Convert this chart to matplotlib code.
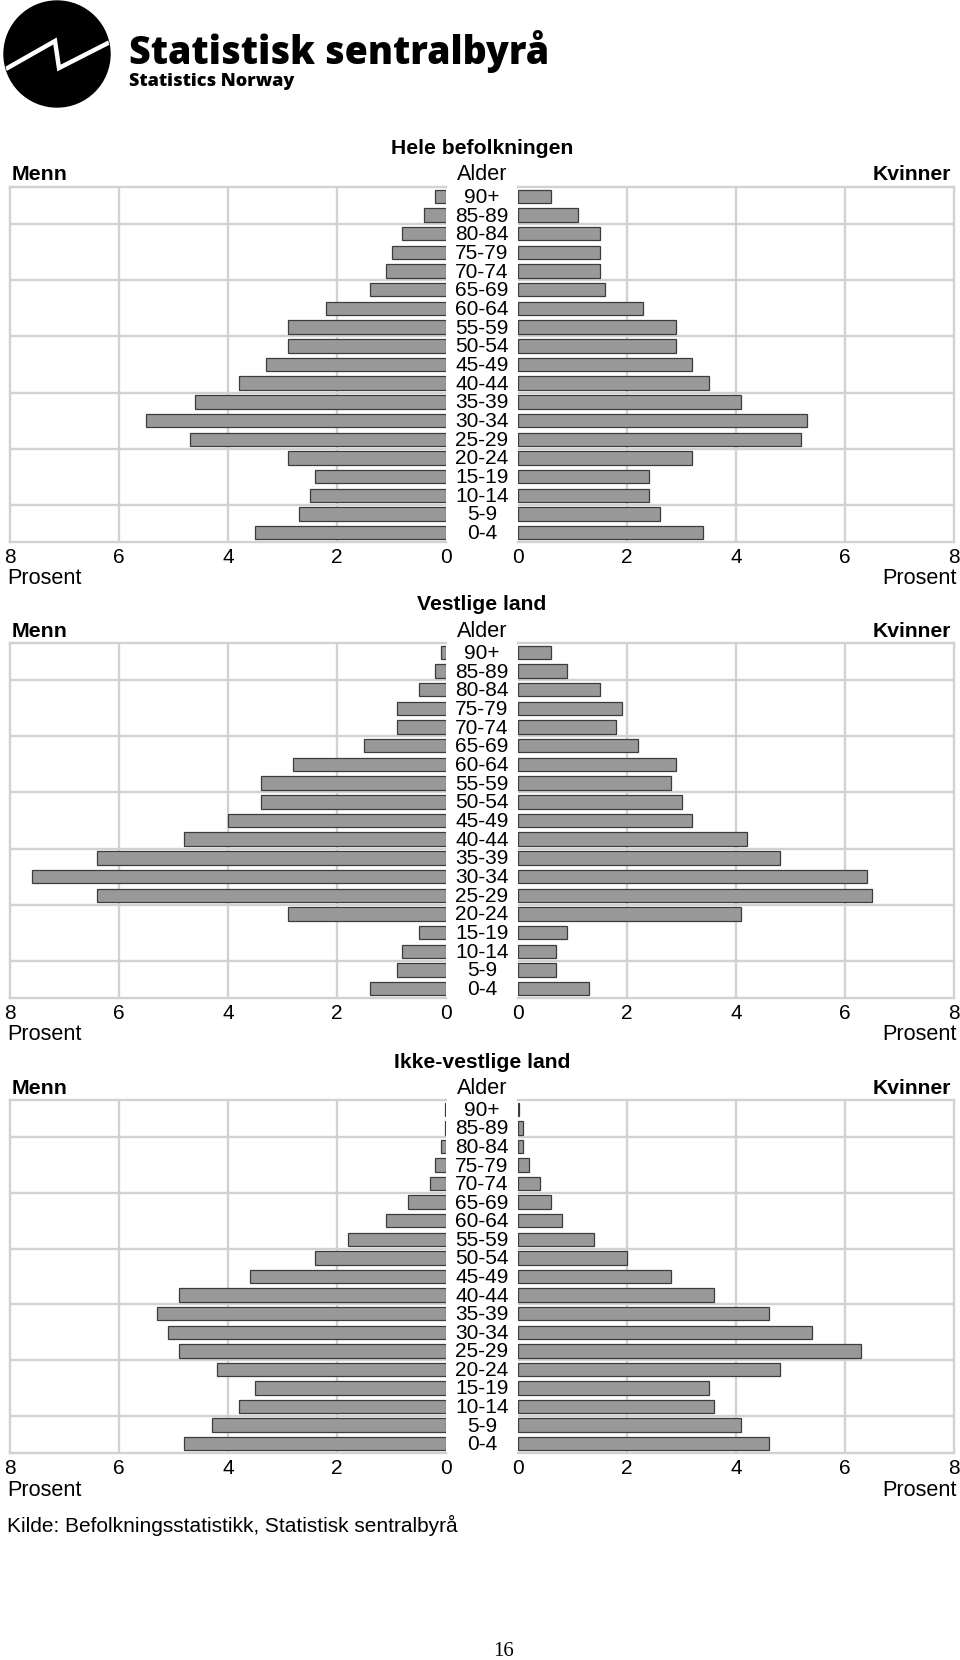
import matplotlib.pyplot as plt
from matplotlib.patches import Circle

ages = ['0-4', '5-9', '10-14', '15-19', '20-24', '25-29', '30-34', '35-39', '40-44',
        '45-49', '50-54', '55-59', '60-64', '65-69', '70-74', '75-79', '80-84', '85-89', '90+']

titles = ['Hele befolkningen', 'Vestlige land', 'Ikke-vestlige land']

# values listed from 0-4 up to 90+, percent
hele_menn = [3.5, 2.7, 2.5, 2.4, 2.9, 4.7, 5.5, 4.6, 3.8, 3.3, 2.9, 2.9, 2.2, 1.4, 1.1, 1.0, 0.8, 0.4, 0.2]
hele_kvinner = [3.4, 2.6, 2.4, 2.4, 3.2, 5.2, 5.3, 4.1, 3.5, 3.2, 2.9, 2.9, 2.3, 1.6, 1.5, 1.5, 1.5, 1.1, 0.6]
vest_menn = [1.4, 0.9, 0.8, 0.5, 2.9, 6.4, 7.6, 6.4, 4.8, 4.0, 3.4, 3.4, 2.8, 1.5, 0.9, 0.9, 0.5, 0.2, 0.1]
vest_kvinner = [1.3, 0.7, 0.7, 0.9, 4.1, 6.5, 6.4, 4.8, 4.2, 3.2, 3.0, 2.8, 2.9, 2.2, 1.8, 1.9, 1.5, 0.9, 0.6]
ikke_menn = [4.8, 4.3, 3.8, 3.5, 4.2, 4.9, 5.1, 5.3, 4.9, 3.6, 2.4, 1.8, 1.1, 0.7, 0.3, 0.2, 0.1, 0.02, 0.02]
ikke_kvinner = [4.6, 4.1, 3.6, 3.5, 4.8, 6.3, 5.4, 4.6, 3.6, 2.8, 2.0, 1.4, 0.8, 0.6, 0.4, 0.2, 0.1, 0.1, 0.02]

ticks = [8, 6, 4, 2, 0]

W, H = 960, 1660
NARROW = ['Liberation Sans Narrow', 'Liberation Sans', 'DejaVu Sans']
SANS = ['Liberation Sans', 'DejaVu Sans']
GRID = '#d2d2d2'
BAR = '#999999'
EDGE = '#3c3c3c'


def fx(x):
    return x / W


def fy(y):
    return 1 - y / H


def pyramid(fig, top, bottom, title, menn, kvinner):
    h = (bottom - top) / H
    axl = fig.add_axes([fx(10), fy(bottom), fx(436), h])
    axr = fig.add_axes([fx(518), fy(bottom), fx(436), h])
    y = list(range(len(ages)))
    for ax, vals in ((axl, menn), (axr, kvinner)):
        ax.barh(y, vals, height=0.72, color=BAR, edgecolor=EDGE, linewidth=0.9, zorder=3)
        ax.set_ylim(-0.5, len(ages) - 0.5)
        ax.set_xticks(ticks)
        ax.set_xticklabels([str(t) for t in ticks], family=NARROW, fontsize=15)
        ax.set_yticks([])
        ax.tick_params(axis='x', length=0, pad=4)
        for t in (2, 4, 6):
            ax.axvline(t, color=GRID, lw=1.7, zorder=1)
        for g in (1.5, 4.5, 7.5, 10.5, 13.5, 16.5):
            ax.axhline(g, color=GRID, lw=1.7, zorder=1)
        for s in ax.spines.values():
            s.set_color(GRID)
            s.set_linewidth(1.7)
    axl.set_xlim(8, 0)
    axr.set_xlim(0, 8)
    axl.spines['right'].set_visible(False)
    axr.spines['left'].set_visible(False)

    # age labels in the gap between the halves
    for i, a in enumerate(ages):
        yy = bottom - (i + 0.5) * (bottom - top) / len(ages)
        fig.text(fx(482), fy(yy + 1), a, ha='center', va='center', family=NARROW, fontsize=15)

    fig.text(fx(482), fy(top - 38), title, ha='center', va='center',
             family=SANS, fontsize=15.2, fontweight='bold')
    fig.text(fx(12), fy(top - 12), 'Menn', ha='left', va='center',
             family=SANS, fontsize=15.4, fontweight='bold')
    fig.text(fx(951), fy(top - 12), 'Kvinner', ha='right', va='center',
             family=SANS, fontsize=15.2, fontweight='bold')
    fig.text(fx(482), fy(top - 12), 'Alder', ha='center', va='center',
             family=SANS, fontsize=15.6)
    fig.text(fx(7), fy(bottom + 37), 'Prosent', ha='left', va='center',
             family=NARROW, fontsize=15.6)
    fig.text(fx(957), fy(bottom + 37), 'Prosent', ha='right', va='center',
             family=NARROW, fontsize=15.6)


fig = plt.figure(figsize=(9.6, 16.6), dpi=100)

# logo
logo = fig.add_axes([0, fy(110), fx(112), 110 / H])
logo.set_xlim(0, 112)
logo.set_ylim(110, 0)
logo.set_aspect('equal')
logo.axis('off')
circ = Circle((57, 54), 53, color='black')
logo.add_patch(circ)
zz, = logo.plot([4, 55, 59, 112], [70, 41, 68, 41], color='white', lw=3.2, solid_joinstyle='miter')
zz.set_clip_path(circ)
fig.text(fx(129), fy(64), 'Statistisk sentralbyrå', ha='left', va='baseline',
         family=['Open Sans', 'DejaVu Sans'], fontsize=27, fontweight='heavy')
fig.text(fx(129), fy(82), 'Statistics Norway', ha='left', va='center',
         family=['Open Sans', 'DejaVu Sans'], fontsize=13, fontweight='heavy')

pyramid(fig, 187, 542, titles[0], hele_menn, hele_kvinner)
pyramid(fig, 643, 998, titles[1], vest_menn, vest_kvinner)
pyramid(fig, 1100, 1453, titles[2], ikke_menn, ikke_kvinner)

fig.text(fx(7), fy(1525), 'Kilde: Befolkningsstatistikk, Statistisk sentralbyrå',
         ha='left', va='center', family=SANS, fontsize=15)
fig.text(fx(504), fy(1651), '16', ha='center', va='center',
         family=['Liberation Serif', 'DejaVu Serif'], fontsize=15)

fig.savefig('out.png', dpi=100)
